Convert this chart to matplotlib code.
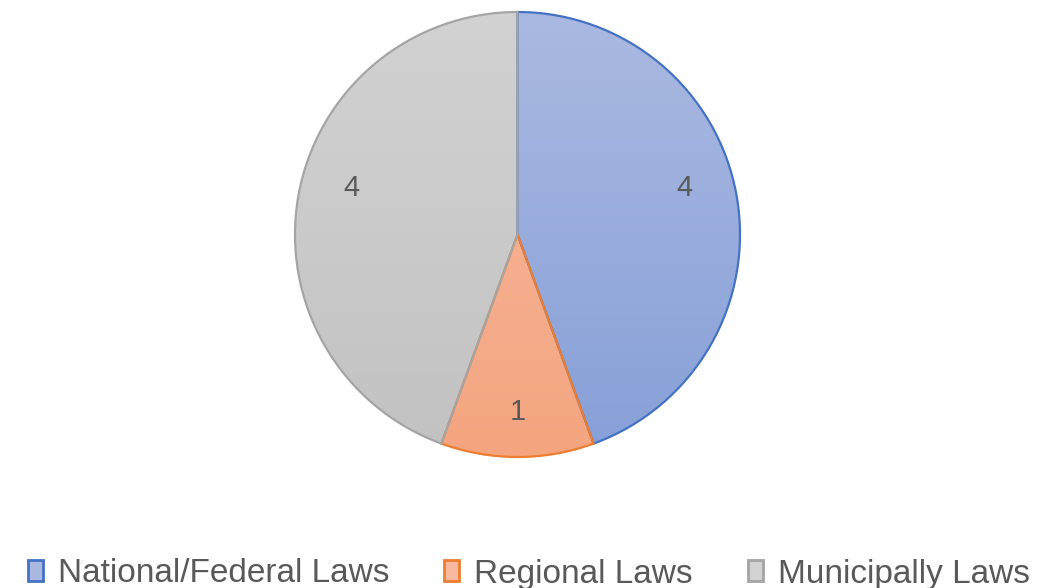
import numpy as np
import matplotlib
matplotlib.use("Agg")
import matplotlib.pyplot as plt
from matplotlib.patches import Rectangle
from matplotlib import font_manager
from matplotlib.colors import LinearSegmentedColormap

names = {f.name for f in font_manager.fontManager.ttflist}
fam = "Liberation Sans Narrow" if "Liberation Sans Narrow" in names else "Liberation Sans"
plt.rcParams['font.family'] = [fam, 'DejaVu Sans']

categories = ["National/Federal Laws", "Regional Laws", "Municipally Laws"]
values = [4, 1, 4]
edge_colors = ["#4472c4", "#ed7d31", "#a5a5a5"]
top_colors = ["#aab9e1", "#f7b9a0", "#d2d2d2"]
bottom_colors = ["#87a0d8", "#f4a580", "#c2c2c2"]

fig = plt.figure(figsize=(10.58, 5.88), dpi=100)
ax = fig.add_axes([295/1058, 131/588, 445/1058, 445/588])
ax.set_aspect('equal')

wedges, texts, autotexts = ax.pie(values, startangle=90, counterclock=False,
                                  radius=1.0, autopct=lambda p: f"{p*sum(values)/100:.0f}",
                                  pctdistance=0.8,
                                  wedgeprops=dict(linewidth=1.6),
                                  textprops=dict(fontsize=21, color="#595959"))

for w, ec, tc, bc in zip(wedges, edge_colors, top_colors, bottom_colors):
    w.set_facecolor('none')
    w.set_edgecolor(ec)
    w.set_zorder(3)
    cmap = LinearSegmentedColormap.from_list("g", [bc, tc])
    grad = np.linspace(0, 1, 256).reshape(-1, 1)
    im = ax.imshow(grad, cmap=cmap, extent=[-1, 1, -1, 1], origin='lower',
                   aspect='auto', zorder=2)
    im.set_clip_path(w)
for t in autotexts:
    t.set_zorder(5)
    x, y = t.get_position()
    if y > 0:
        t.set_position((x * 0.95, y + 0.07))

ax.set_xlim(-1.0, 1.0)
ax.set_ylim(-1.0, 1.0)
ax.axis('off')

handles = []
for ec, tc, bc in zip(edge_colors, top_colors, bottom_colors):
    handles.append(Rectangle((0, 0), 1, 1, facecolor=tc, edgecolor=ec, linewidth=2))
leg = fig.legend(handles, categories, loc='center', bbox_to_anchor=(0.5, 1 - 574/588),
                 ncol=3, frameon=False, fontsize=24, handlelength=0.45, handleheight=0.6,
                 handletextpad=0.45, columnspacing=1.65, labelcolor="#595959",
                 borderaxespad=0, borderpad=0)

fig.savefig("out.png", dpi=100)
